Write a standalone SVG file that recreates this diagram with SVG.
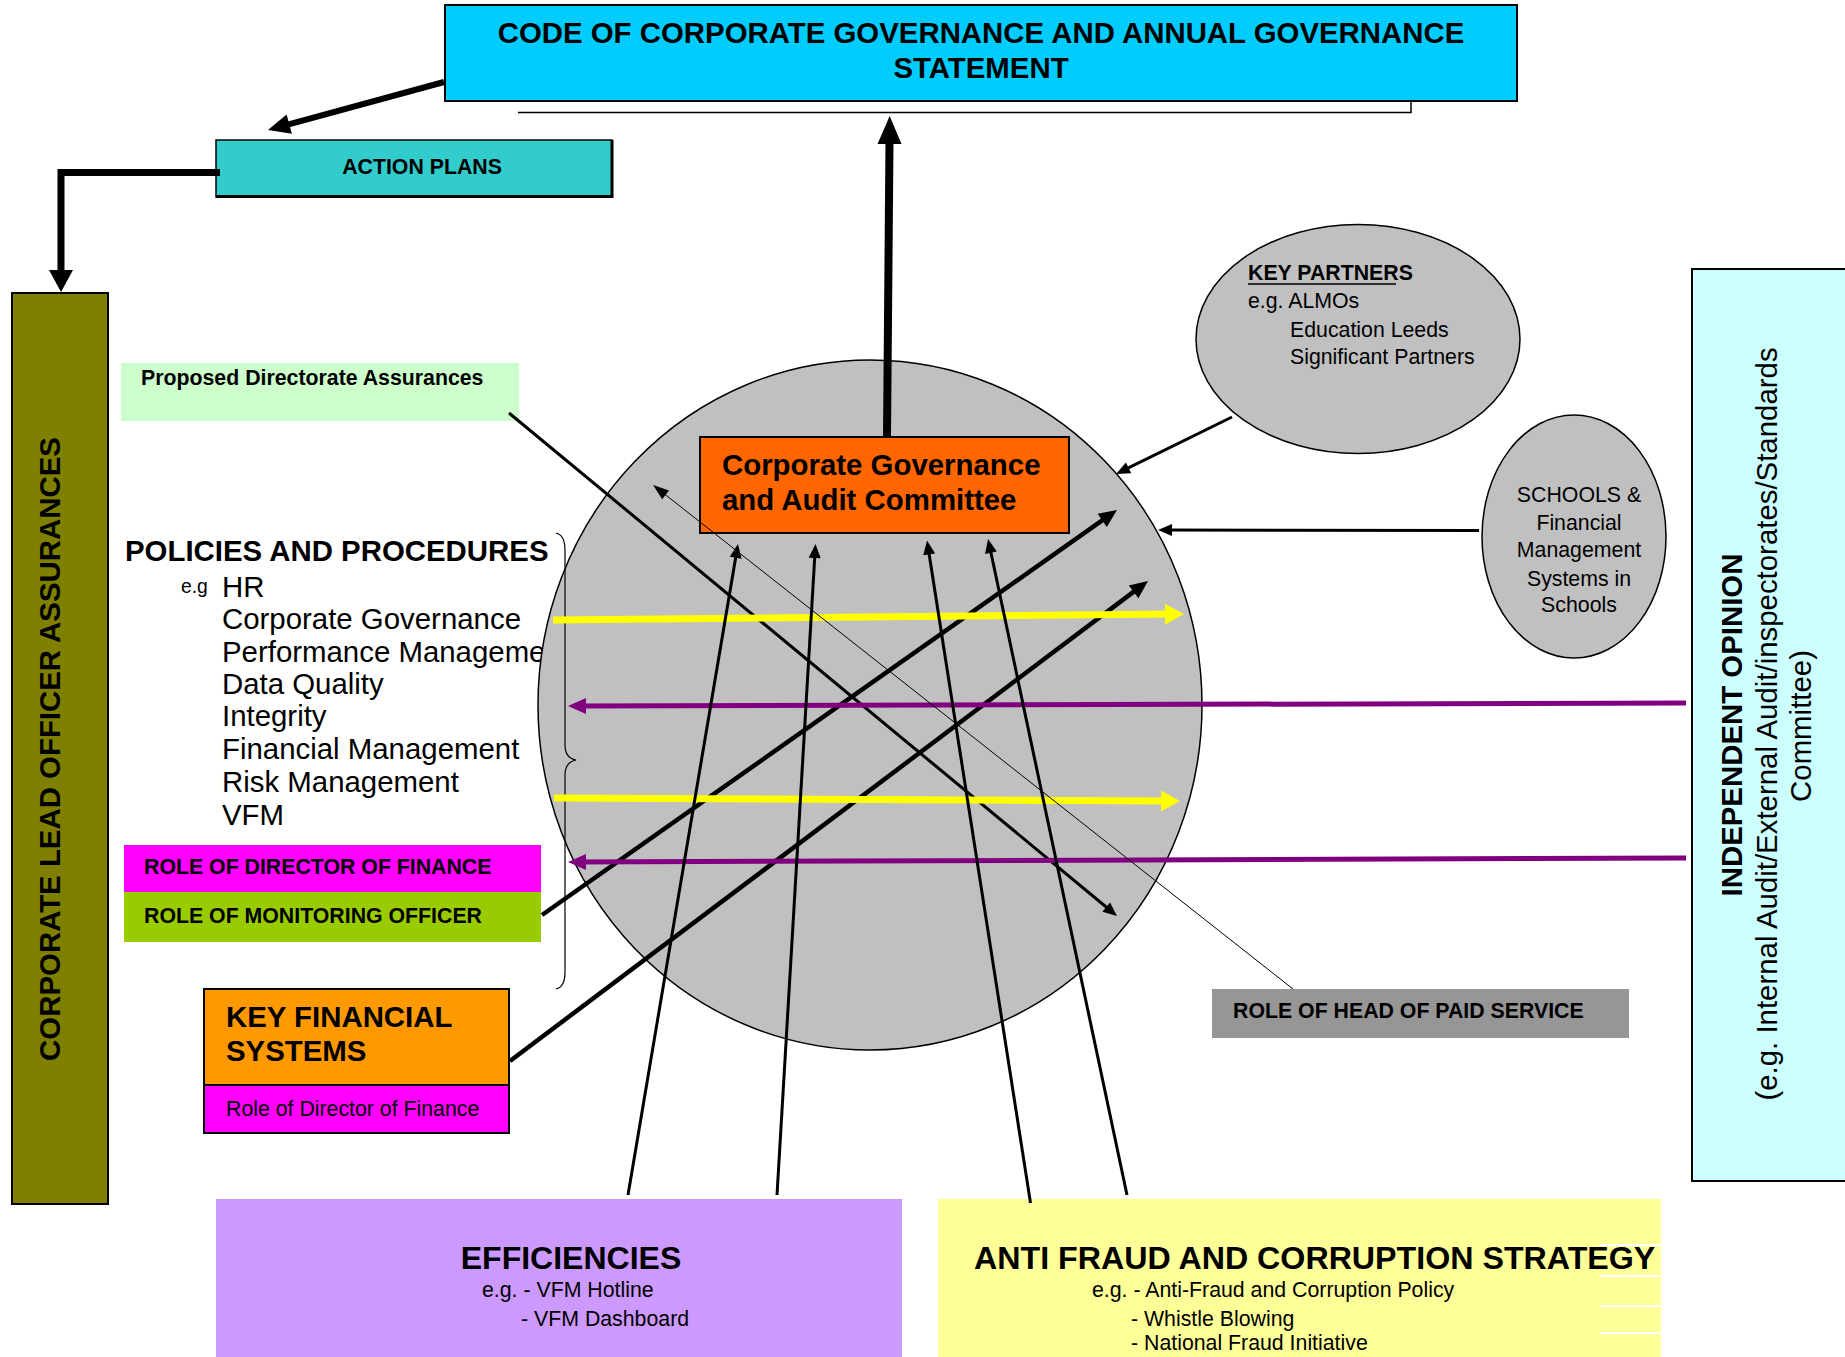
<svg xmlns="http://www.w3.org/2000/svg" width="1845" height="1357" viewBox="0 0 1845 1357">
<style>
text{font-family:"Liberation Sans",Arial,sans-serif;fill:#000}
.b{font-weight:bold}
.f21{font-size:21.3px}
.f29{font-size:29.4px}
.box{stroke:#000;stroke-width:2}
.c3{fill:none;stroke:#000;stroke-width:3}
.c45{fill:none;stroke:#000;stroke-width:4.5}
</style>
<defs>
<marker id="mA" markerUnits="userSpaceOnUse" markerWidth="14" markerHeight="12" refX="7" refY="6" orient="auto" overflow="visible"><path d="M0,0 L14,6 L0,12 Z" fill="#000"/></marker>
<marker id="mB" markerUnits="userSpaceOnUse" markerWidth="18" markerHeight="16" refX="9" refY="8" orient="auto" overflow="visible"><path d="M0,0 L18,8 L0,16 Z" fill="#000"/></marker>
<marker id="mC" markerUnits="userSpaceOnUse" markerWidth="22" markerHeight="20" refX="11" refY="10" orient="auto" overflow="visible"><path d="M0,0 L22,10 L0,20 Z" fill="#000"/></marker>
<marker id="mD" markerUnits="userSpaceOnUse" markerWidth="22" markerHeight="24" refX="11" refY="12" orient="auto" overflow="visible"><path d="M0,0 L22,12 L0,24 Z" fill="#000"/></marker>
<marker id="mE" markerUnits="userSpaceOnUse" markerWidth="28" markerHeight="24" refX="14" refY="12" orient="auto" overflow="visible"><path d="M0,0 L28,12 L0,24 Z" fill="#000"/></marker>
<marker id="mY" markerUnits="userSpaceOnUse" markerWidth="19" markerHeight="21" refX="9.5" refY="10.5" orient="auto" overflow="visible"><path d="M0,0 L19,10.5 L0,21 Z" fill="#FFFF00"/></marker>
<marker id="mP" markerUnits="userSpaceOnUse" markerWidth="18" markerHeight="16" refX="9" refY="8" orient="auto" overflow="visible"><path d="M0,0 L18,8 L0,16 Z" fill="#800080"/></marker>
<marker id="mT" markerUnits="userSpaceOnUse" markerWidth="16" markerHeight="11" refX="14" refY="5.5" orient="auto" overflow="visible"><path d="M0,0 L16,5.5 L0,11 Z" fill="#000"/></marker>
</defs>
<rect width="1845" height="1357" fill="#fff"/>

<g id="policies">
<text class="b f29" x="125" y="561">POLICIES AND PROCEDURES</text>
<text x="181" y="593" font-size="19.3">e.g</text>
<text class="f29" x="222" y="597">HR</text>
<text class="f29" x="222" y="629">Corporate Governance</text>
<text class="f29" x="222" y="662">Performance Manageme</text>
<text class="f29" x="222" y="694">Data Quality</text>
<text class="f29" x="222" y="726">Integrity</text>
<text class="f29" x="222" y="759">Financial Management</text>
<text class="f29" x="222" y="792">Risk Management</text>
<text class="f29" x="222" y="825">VFM</text>
</g>

<g id="circle">
<ellipse cx="870" cy="705" rx="332" ry="345" fill="#C0C0C0" stroke="#000" stroke-width="1.5"/>
</g>

<g id="brace">
<path d="M556,533 Q565,535 565,550 L565,745 Q565,758 576,760 Q565,762 565,775 L565,972 Q565,987 556,989" fill="none" stroke="#000" stroke-width="1.2"/>
</g>

<g id="code">
<rect class="box" x="445" y="5" width="1072" height="96" fill="#00CCFF" stroke-width="2.5"/>
<text class="b f29" x="981" y="43" text-anchor="middle">CODE OF CORPORATE GOVERNANCE AND ANNUAL GOVERNANCE</text>
<text class="b f29" x="981" y="78" text-anchor="middle">STATEMENT</text>
<path d="M518,112.5 H1411 V101" fill="none" stroke="#000" stroke-width="1.5"/>
</g>

<g id="action-plans">
<rect x="216" y="140" width="396" height="57" fill="#33CCCC" stroke="#000" stroke-width="1.5"/>
<path d="M216,196.5 H612 V140" fill="none" stroke="#000" stroke-width="3"/>
<text class="b f21" x="422" y="174" text-anchor="middle">ACTION PLANS</text>
</g>

<g id="lead-officer">
<rect class="box" x="12" y="293" width="96" height="911" fill="#808000"/>
<text class="b f29" transform="translate(60,749) rotate(-90)" text-anchor="middle">CORPORATE LEAD OFFICER ASSURANCES</text>
</g>

<g id="proposed">
<rect x="121" y="363" width="398" height="58" fill="#CCFFCC"/>
<text class="b f21" x="141" y="385">Proposed Directorate Assurances</text>
</g>

<g id="role-dof">
<rect x="124" y="845" width="417" height="47" fill="#FF00FF"/>
<text class="b f21" x="144" y="874">ROLE OF DIRECTOR OF FINANCE</text>
</g>

<g id="role-mo">
<rect x="124" y="892" width="417" height="50" fill="#99CC00"/>
<text class="b f21" x="144" y="923">ROLE OF MONITORING OFFICER</text>
</g>

<g id="kfs">
<rect class="box" x="204" y="989" width="305" height="96" fill="#FF9900"/>
<rect class="box" x="204" y="1085" width="305" height="48" fill="#FF00FF"/>
<text class="b f29" x="226" y="1027">KEY FINANCIAL</text>
<text class="b f29" x="226" y="1061">SYSTEMS</text>
<text class="f21" x="226" y="1116">Role of Director of Finance</text>
</g>

<g id="committee">
<rect class="box" x="700" y="437" width="369" height="96" fill="#FF6600"/>
<text class="b f29" x="722" y="475">Corporate Governance</text>
<text class="b f29" x="722" y="510">and Audit Committee</text>
</g>

<g id="key-partners">
<ellipse cx="1358" cy="339" rx="162" ry="114.5" fill="#C0C0C0" stroke="#000" stroke-width="1.5"/>
<text class="b f21" x="1248" y="280">KEY PARTNERS</text>
<line x1="1248" y1="284" x2="1396" y2="284" stroke="#000" stroke-width="1.5"/>
<text class="f21" x="1248" y="308">e.g. ALMOs</text>
<text class="f21" x="1290" y="337">Education Leeds</text>
<text class="f21" x="1290" y="364">Significant Partners</text>
</g>

<g id="schools">
<ellipse cx="1574" cy="536.5" rx="92" ry="121.5" fill="#C0C0C0" stroke="#000" stroke-width="1.5"/>
<text class="f21" x="1579" y="502" text-anchor="middle">SCHOOLS &amp;</text>
<text class="f21" x="1579" y="530" text-anchor="middle">Financial</text>
<text class="f21" x="1579" y="557" text-anchor="middle">Management</text>
<text class="f21" x="1579" y="586" text-anchor="middle">Systems in</text>
<text class="f21" x="1579" y="612" text-anchor="middle">Schools</text>
</g>

<g id="independent">
<rect class="box" x="1692" y="269" width="170" height="912" fill="#CCFFFF"/>
<text class="b f29" transform="translate(1742,725) rotate(-90)" text-anchor="middle">INDEPENDENT OPINION</text>
<text class="f29" transform="translate(1777,724) rotate(-90)" text-anchor="middle">(e.g. Internal Audit/External Audit/inspectorates/Standards</text>
<text class="f29" transform="translate(1811,726) rotate(-90)" text-anchor="middle">Committee)</text>
</g>

<g id="head-paid">
<rect x="1212" y="989" width="417" height="49" fill="#969696"/>
<text class="b f21" x="1233" y="1018">ROLE OF HEAD OF PAID SERVICE</text>
</g>

<g id="efficiencies">
<rect x="216" y="1199" width="686" height="160" fill="#CC99FF"/>
<text class="b" x="571" y="1269" font-size="32" text-anchor="middle">EFFICIENCIES</text>
<text class="f21" x="482" y="1297">e.g. - VFM Hotline</text>
<text class="f21" x="521" y="1326">- VFM Dashboard</text>
</g>

<g id="anti-fraud">
<rect x="938" y="1199" width="723" height="160" fill="#FFFF99"/>
<text class="b" x="974" y="1269" font-size="32.2">ANTI FRAUD AND CORRUPTION STRATEGY</text>
<text class="f21" x="1092" y="1297">e.g. - Anti-Fraud and Corruption Policy</text>
<text class="f21" x="1131" y="1326">- Whistle Blowing</text>
<text class="f21" x="1131" y="1350">- National Fraud Initiative</text>
<path d="M1600,1245 H1661 M1600,1276 H1661 M1600,1306 H1661 M1600,1333 H1661" stroke="#fff" stroke-width="2"/>
</g>

<g id="connectors">
<line x1="444" y1="82" x2="278.6" y2="127.1" stroke="#000" stroke-width="6" marker-end="url(#mC)"/>
<path d="M220,172.5 H61 V281" fill="none" stroke="#000" stroke-width="7" marker-end="url(#mD)"/>
<line x1="887" y1="437" x2="889.6" y2="130" stroke="#000" stroke-width="8" marker-end="url(#mE)"/>
<line class="c3" x1="509" y1="413" x2="1111.6" y2="911.5" marker-end="url(#mA)"/>
<line class="c45" x1="542" y1="915" x2="1109.6" y2="515.2" marker-end="url(#mB)"/>
<line class="c45" x1="510" y1="1061" x2="1140.8" y2="586.4" marker-end="url(#mB)"/>
<line x1="553" y1="620" x2="1174.5" y2="614.1" stroke="#FFFF00" stroke-width="7" marker-end="url(#mY)"/>
<line x1="554" y1="798" x2="1170.5" y2="801" stroke="#FFFF00" stroke-width="7" marker-end="url(#mY)"/>
<line x1="1686" y1="703" x2="577" y2="706" stroke="#800080" stroke-width="5" marker-end="url(#mP)"/>
<line x1="1686" y1="858" x2="577" y2="862" stroke="#800080" stroke-width="5" marker-end="url(#mP)"/>
<line class="c3" x1="628" y1="1195" x2="736.8" y2="550.9" marker-end="url(#mA)"/>
<line class="c3" x1="777" y1="1195" x2="815.1" y2="551" marker-end="url(#mA)"/>
<line class="c3" x1="1030.5" y1="1203" x2="928.1" y2="547.5" marker-end="url(#mA)"/>
<line class="c3" x1="1127" y1="1195" x2="989.5" y2="545.8" marker-end="url(#mA)"/>
<line class="c3" x1="1232" y1="417" x2="1122.3" y2="470.9" marker-end="url(#mA)"/>
<line class="c3" x1="1479" y1="530.5" x2="1165" y2="530" marker-end="url(#mA)"/>
<line x1="1293" y1="989" x2="654.6" y2="486.2" stroke="#000" stroke-width="1" marker-end="url(#mT)"/>
</g>
</svg>
